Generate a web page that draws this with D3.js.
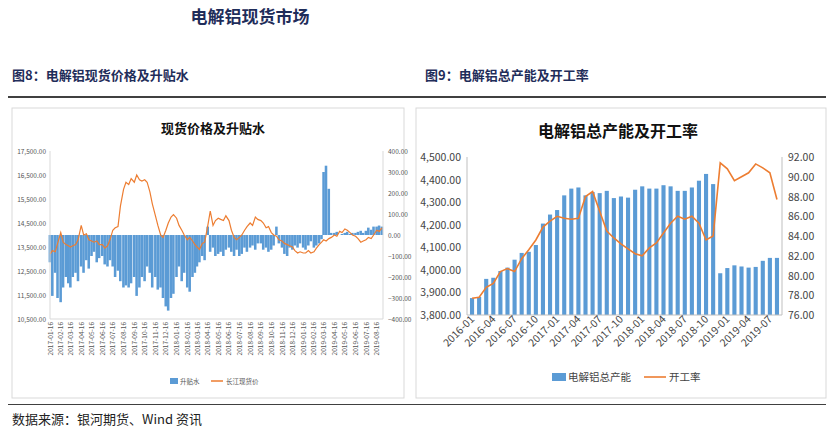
<!DOCTYPE html>
<html><head><meta charset="utf-8">
<script src="https://cdn.jsdelivr.net/npm/d3@7"></script>
<style>
body{margin:0;background:#fff;font-family:"Noto Sans CJK SC","Noto Sans",sans-serif;}
svg text{font-family:"Noto Sans CJK SC","Noto Sans",sans-serif;}
</style></head>
<body><svg id="chart" width="832" height="429"></svg>
<script>
// left chart: spot price and premium, 4 points per month starting 2017-01-16
const leftStart = "2017-01-16";
const spotPrice = [
  13200,13350,13300,13650, 14100,13700,13600,13550, 13500,13550,13600,13800, 14400,14000,14050,13800,
  13750,13700,13750,13600, 13600,13450,13550,13800, 14200,14300,14350,15200, 15900,16200,16100,16350,
  16200,16500,16300,16250, 16300,16200,15800,15300, 14800,14400,14000,13900, 14200,14500,14750,14850,
  14700,14400,14200,14000, 13800,13900,13750,13600, 13500,13400,13650,13700, 14400,15000,14400,14600,
  14700,14650,14600,14800, 14600,14200,13900,13800, 13900,14000,14200,14350, 14500,14400,14750,14650,
  14600,14500,14300,14350, 14100,14000,13950,13800, 13750,13650,13600,13550, 13500,13350,13250,13300,
  13250,13250,13350,13250, 13300,13450,13600,13700, 13800,13750,13850,13900, 14000,13950,14150,14100,
  14250,14200,14100,14000, 13950,13850,13700,13750, 13800,13900,13850,14000, 14200,14150,14300
];
const premium = [
  -130,-290,-180,-300, -320,-250,-200,-230, -250,-200,-180,-220, -150,-180,-120,-160,
  -100,-80,-130,-110, -100,-140,-150,-120, -150,-200,-170,-220, -250,-240,-250,-230,
  -200,-290,-250,-200, -220,-150,-180,-250, -200,-260,-250,-300, -340,-360,-300,-280,
  -200,-150,-220,-180, -250,-270,-200,-180, -150,-130,-100,-120, 40,-80,-60,-100,
  -90,-80,-100,-70, -60,-80,-100,-70, -100,-90,-60,-80, -60,-50,-70,-40,
  -40,-70,-60,-80, -70,-50,40,-40, -60,-90,-100,-60, -70,-50,-60,-40,
  -60,-70,-50,-30, -60,-50,-40,-20, 300,330,220,10, 10,15,0,5,
  10,15,5,10, 10,15,20,10, 20,35,25,40, 40,45,40
];
const leftTicksL = [10500,11500,12500,13500,14500,15500,16500,17500];
const leftTicksR = [-400,-300,-200,-100,0,100,200,300,400];

// right chart: capacity and utilisation, monthly 2016-01..2019-08
const months = [];
for (let y = 2016; y <= 2019; y++) for (let m = 1; m <= 12; m++) if (y < 2019 || m <= 8) months.push(`${y}-${String(m).padStart(2,"0")}`);
const capacity = [3875,3880,3960,3965,3995,4010,4045,4075,4080,4110,4205,4245,
  4265,4330,4360,4365,4330,4345,4340,4350,4318,4325,4320,4355,
  4370,4360,4360,4375,4370,4350,4350,4365,4395,4425,4380,3985,
  4008,4020,4015,4010,4013,4040,4053,4053];
const utilisation = [77.7,77.8,78.8,79.2,80.4,80.7,80.4,81.7,82.6,83.6,84.9,85.5,
  86.0,85.8,85.7,85.8,88.0,88.5,86.5,84.5,83.8,83.2,82.7,82.2,
  82.0,82.8,83.3,84.3,85.3,86.0,85.7,86.0,85.3,83.6,84.0,91.4,
  90.8,89.6,90.0,90.4,91.3,90.9,90.4,87.7];
const rightTicksL = [3800,3900,4000,4100,4200,4300,4400,4500];
const rightTicksR = [76,78,80,82,84,86,88,90,92];

const blue = "#5b9bd5", orange = "#ed7d31", navy = "#1f2d5a";
const svg = d3.select("#chart");

svg.append("text").attr("x", 250).attr("y", 23).attr("text-anchor", "middle")
  .attr("font-size", 17).attr("font-weight", 700).attr("fill", navy).text("电解铝现货市场");
svg.append("text").attr("x", 12).attr("y", 80).attr("font-size", 13).attr("font-weight", 700)
  .attr("fill", navy).text("图8：电解铝现货价格及升贴水");
svg.append("text").attr("x", 425).attr("y", 80).attr("font-size", 13).attr("font-weight", 700)
  .attr("fill", navy).text("图9：电解铝总产能及开工率");
svg.append("rect").attr("x", 8).attr("y", 96).attr("width", 818).attr("height", 2).attr("fill", "#404040");
svg.append("rect").attr("x", 8).attr("y", 404).attr("width", 818).attr("height", 1).attr("fill", "#404040");
svg.append("text").attr("x", 12).attr("y", 424).attr("font-size", 13).attr("fill", "#222")
  .text("数据来源：银河期货、Wind 资讯");

// ---- left chart
svg.append("rect").attr("x", 12).attr("y", 108).attr("width", 392).attr("height", 290)
  .attr("fill", "#fff").attr("stroke", "#d9d9d9");
svg.append("text").attr("x", 213).attr("y", 133).attr("text-anchor", "middle")
  .attr("font-size", 13).attr("font-weight", 700).attr("fill", "#111").text("现货价格及升贴水");

const t0 = d3.timeParse("%Y-%m-%d")(leftStart);
const dates = spotPrice.map((_, i) => d3.timeDay.offset(d3.timeMonth.offset(t0, Math.floor(i / 4)), (i % 4) * 7.6));
const xL = d3.scaleTime().domain([t0, d3.timeDay.offset(t0, 960)]).range([50, 383]);
const yL = d3.scaleLinear().domain([10500, 17500]).range([319, 151]);
const yR = d3.scaleLinear().domain([-400, 400]).range([319, 151]);
const lg = svg.append("g");

const barW = xL(d3.timeDay.offset(t0, 8)) - xL(t0);
lg.append("g").selectAll("rect").data(premium).join("rect")
  .attr("x", (d, i) => xL(dates[i]) - barW / 2)
  .attr("width", barW * 0.92)
  .attr("y", d => yR(Math.max(0, d)))
  .attr("height", d => Math.abs(yR(d) - yR(0)))
  .attr("fill", blue);
lg.append("path").datum(spotPrice)
  .attr("d", d3.line().x((d, i) => xL(dates[i])).y(d => yL(d)))
  .attr("fill", "none").attr("stroke", orange).attr("stroke-width", 1.2);

lg.append("line").attr("x1", 50).attr("x2", 50).attr("y1", 151).attr("y2", 319).attr("stroke", "#d9d9d9");
lg.append("line").attr("x1", 383).attr("x2", 383).attr("y1", 151).attr("y2", 319).attr("stroke", "#d9d9d9");
lg.append("line").attr("x1", 50).attr("x2", 383).attr("y1", 319).attr("y2", 319).attr("stroke", "#d9d9d9");
lg.append("g").selectAll("text").data(leftTicksL).join("text")
  .attr("x", 46).attr("y", d => yL(d) + 2.5).attr("text-anchor", "end")
  .attr("font-size", 6.5).attr("fill", "#555").text(d3.format(",.2f"));
lg.append("g").selectAll("text").data(leftTicksR).join("text")
  .attr("x", 388).attr("y", d => yR(d) + 2.5)
  .attr("font-size", 6.5).attr("fill", "#555").text(d => d3.format(".2f")(d).replace("-", ""));
const monthTicks = d3.range(32).map(k => d3.timeMonth.offset(t0, k));
lg.append("g").selectAll("text").data(monthTicks).join("text")
  .attr("transform", d => `translate(${xL(d) + 2.5},322) rotate(-90)`)
  .attr("text-anchor", "end").attr("font-size", 6.5).attr("fill", "#555")
  .text(d3.timeFormat("%Y-%m-%d"));

lg.append("rect").attr("x", 170).attr("y", 378).attr("width", 8).attr("height", 6).attr("fill", blue);
lg.append("text").attr("x", 180).attr("y", 384).attr("font-size", 6.5).attr("fill", "#555").text("升贴水");
lg.append("line").attr("x1", 211).attr("x2", 223).attr("y1", 381).attr("y2", 381).attr("stroke", orange).attr("stroke-width", 1.5);
lg.append("text").attr("x", 226).attr("y", 384).attr("font-size", 6.5).attr("fill", "#555").text("长江现货价");

// ---- right chart
svg.append("rect").attr("x", 416).attr("y", 108).attr("width", 410).attr("height", 290)
  .attr("fill", "#fff").attr("stroke", "#d9d9d9");
svg.append("text").attr("x", 618).attr("y", 137).attr("text-anchor", "middle")
  .attr("font-size", 16).attr("font-weight", 700).attr("fill", "#111").text("电解铝总产能及开工率");

const x = d3.scaleBand().domain(months).range([467, 782]).padding(0.42);
const yC = d3.scaleLinear().domain([3800, 4500]).range([315, 157]);
const yU = d3.scaleLinear().domain([76, 92]).range([315, 157]);
const rg = svg.append("g");
rg.append("g").selectAll("rect").data(capacity).join("rect")
  .attr("x", (d, i) => x(months[i])).attr("width", x.bandwidth())
  .attr("y", d => yC(d)).attr("height", d => 315 - yC(d)).attr("fill", blue);
rg.append("path").datum(utilisation)
  .attr("d", d3.line().x((d, i) => x(months[i]) + x.bandwidth() / 2).y(d => yU(d)))
  .attr("fill", "none").attr("stroke", orange).attr("stroke-width", 1.6);
rg.append("line").attr("x1", 467).attr("x2", 467).attr("y1", 157).attr("y2", 315).attr("stroke", "#bfbfbf");
rg.append("line").attr("x1", 782).attr("x2", 782).attr("y1", 157).attr("y2", 315).attr("stroke", "#bfbfbf");
rg.append("line").attr("x1", 467).attr("x2", 782).attr("y1", 315).attr("y2", 315).attr("stroke", "#bfbfbf");
rg.append("g").selectAll("text").data(rightTicksL).join("text")
  .attr("x", 461).attr("y", d => yC(d) + 4).attr("text-anchor", "end")
  .attr("font-size", 10.5).attr("fill", "#444").text(d3.format(",.2f"));
rg.append("g").selectAll("text").data(rightTicksR).join("text")
  .attr("x", 788).attr("y", d => yU(d) + 4)
  .attr("font-size", 10.5).attr("fill", "#444").text(d3.format(".2f"));
rg.append("g").selectAll("text").data(months.filter((d, i) => i % 3 === 0)).join("text")
  .attr("transform", d => `translate(${x(d) + x.bandwidth() / 2 + 3},320) rotate(-45)`)
  .attr("text-anchor", "end").attr("font-size", 10.5).attr("fill", "#444").text(d => d);

rg.append("rect").attr("x", 552).attr("y", 373).attr("width", 14).attr("height", 8).attr("fill", blue);
rg.append("text").attr("x", 568).attr("y", 381).attr("font-size", 10.5).attr("fill", "#444").text("电解铝总产能");
rg.append("line").attr("x1", 644).attr("x2", 666).attr("y1", 377).attr("y2", 377).attr("stroke", orange).attr("stroke-width", 1.6);
rg.append("text").attr("x", 669).attr("y", 381).attr("font-size", 10.5).attr("fill", "#444").text("开工率");
</script></body></html>
